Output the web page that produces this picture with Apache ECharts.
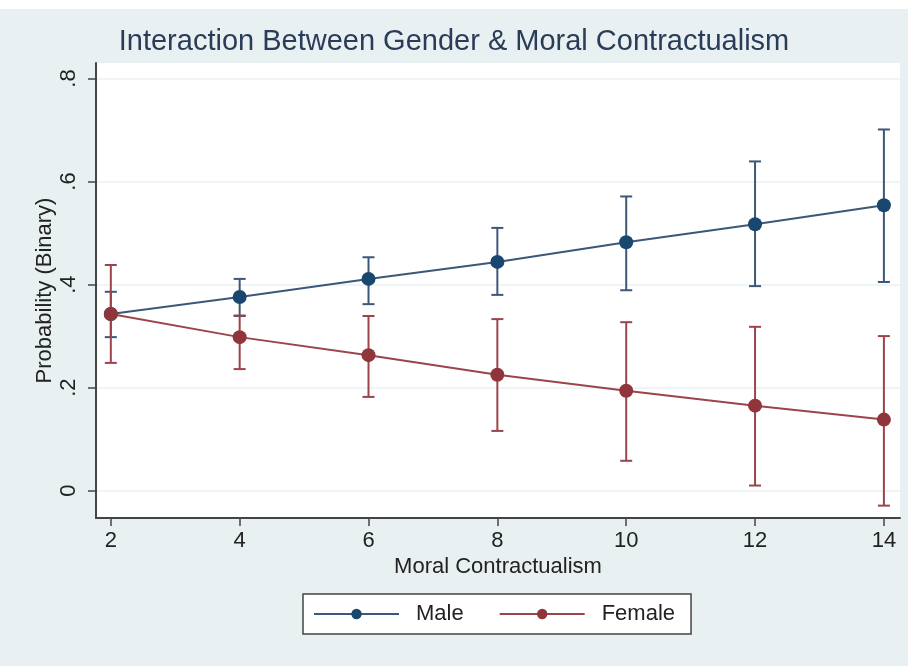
<!DOCTYPE html>
<html>
<head>
<meta charset="utf-8">
<script src="https://cdn.jsdelivr.net/npm/echarts@6/dist/echarts.min.js"></script>
<style>
html,body{margin:0;padding:0;background:#e9f0f2;}
#chart{width:908px;height:666px;}
</style>
</head>
<body>
<div id="chart"></div>
<script>
var xValues = [2, 4, 6, 8, 10, 12, 14];
var maleProb = [0.343, 0.376, 0.411, 0.444, 0.482, 0.517, 0.554];
var maleLow = [0.298, 0.339, 0.362, 0.380, 0.389, 0.397, 0.405];
var maleHigh = [0.386, 0.411, 0.453, 0.510, 0.571, 0.639, 0.701];
var femaleProb = [0.343, 0.298, 0.263, 0.225, 0.194, 0.165, 0.138];
var femaleLow = [0.248, 0.236, 0.182, 0.116, 0.058, 0.010, -0.029];
var femaleHigh = [0.438, 0.340, 0.339, 0.333, 0.327, 0.318, 0.300];
var xTicks = [2, 4, 6, 8, 10, 12, 14];
var yTicks = [0, 0.2, 0.4, 0.6, 0.8];

var BLUE = '#1a476f', BLUE_LINE = '#3b5878';
var RED = '#90353b', RED_LINE = '#9c444c';

function pairs(ys) { return xValues.map(function (x, i) { return [x, ys[i]]; }); }
function ciData(lo, hi) { return xValues.map(function (x, i) { return [x, lo[i], hi[i]]; }); }

function ciRender(color) {
  return function (params, api) {
    var x = api.value(0);
    var lo = api.coord([x, api.value(1)]);
    var hi = api.coord([x, api.value(2)]);
    var w = 6;
    var st = { stroke: color, lineWidth: 2 };
    return {
      type: 'group',
      children: [
        { type: 'line', shape: { x1: lo[0], y1: lo[1], x2: hi[0], y2: hi[1] }, style: st },
        { type: 'line', shape: { x1: lo[0] - w, y1: lo[1], x2: lo[0] + w, y2: lo[1] }, style: st },
        { type: 'line', shape: { x1: hi[0] - w, y1: hi[1], x2: hi[0] + w, y2: hi[1] }, style: st }
      ]
    };
  };
}

var chart = echarts.init(document.getElementById('chart'), null, { renderer: 'canvas' });
var axisCol = '#444444';
var font = 'Liberation Sans, Arial, sans-serif';

chart.setOption({
  backgroundColor: '#e9f0f2',
  animation: false,
  graphic: [
    { type: 'rect', left: 0, top: 0, shape: { width: 908, height: 9 }, style: { fill: '#ffffff' }, silent: true }
  ],
  title: {
    text: 'Interaction Between Gender & Moral Contractualism',
    left: 'center',
    top: 22,
    textStyle: { fontFamily: font, fontSize: 29, fontWeight: 'normal', color: '#2a3d58' }
  },
  grid: { left: 96, right: 8, top: 63, bottom: 148, show: true, backgroundColor: '#ffffff', borderWidth: 0 },
  legend: {
    data: ['Male', 'Female'],
    left: 303,
    top: 594,
    padding: [9, 16, 9, 10],
    itemGap: 35,
    itemWidth: 85,
    itemHeight: 13,
    backgroundColor: '#ffffff',
    borderColor: '#444444',
    borderWidth: 1.5,
    textStyle: { fontFamily: font, fontSize: 22, color: '#222222', padding: [0, 0, 0, 12] }
  },
  xAxis: {
    type: 'value',
    min: 1.77,
    max: 14.25,
    name: 'Moral Contractualism',
    nameLocation: 'middle',
    nameGap: 38,
    nameMoveOverlap: false,
    nameTextStyle: { fontFamily: font, fontSize: 22, color: '#222222' },
    axisLine: { show: true, onZero: false, lineStyle: { color: axisCol, width: 2 } },
    axisTick: { show: true, length: 8, customValues: xTicks, lineStyle: { color: axisCol, width: 1.5 } },
    axisLabel: { customValues: xTicks, margin: 12, fontFamily: font, fontSize: 22, color: '#222222' },
    splitLine: { show: false }
  },
  yAxis: {
    type: 'value',
    min: -0.053,
    max: 0.83,
    splitNumber: 5,
    name: 'Probability (Binary)',
    nameLocation: 'middle',
    nameRotate: 90,
    nameGap: 40,
    nameMoveOverlap: false,
    nameTextStyle: { fontFamily: font, fontSize: 22, color: '#222222' },
    axisLine: { show: true, onZero: false, lineStyle: { color: axisCol, width: 2 } },
    axisTick: { show: true, length: 8, customValues: yTicks, lineStyle: { color: axisCol, width: 1.5 } },
    axisLabel: {
      customValues: yTicks,
      rotate: 90,
      margin: 16,
      fontFamily: font, fontSize: 22, color: '#222222',
      formatter: function (v) { if (Math.abs(v) < 1e-9) return '0'; return String(Math.round(v * 10) / 10).replace(/^0\./, '.'); }
    },
    splitLine: { show: true, lineStyle: { color: '#eaf1f3', width: 1.5 } }
  },
  series: [
    {
      name: 'Male CI', type: 'custom', renderItem: ciRender(BLUE_LINE), data: ciData(maleLow, maleHigh),
      encode: { x: 0, y: [1, 2] }, z: 1, silent: true
    },
    {
      name: 'Female CI', type: 'custom', renderItem: ciRender(RED_LINE), data: ciData(femaleLow, femaleHigh),
      encode: { x: 0, y: [1, 2] }, z: 1, silent: true
    },
    {
      name: 'Male', type: 'line', data: pairs(maleProb), symbol: 'circle', symbolSize: 14,
      lineStyle: { color: BLUE_LINE, width: 2 }, itemStyle: { color: BLUE }, z: 3
    },
    {
      name: 'Female', type: 'line', data: pairs(femaleProb), symbol: 'circle', symbolSize: 14,
      lineStyle: { color: RED_LINE, width: 2 }, itemStyle: { color: RED }, z: 4
    }
  ]
});
</script>
</body>
</html>
